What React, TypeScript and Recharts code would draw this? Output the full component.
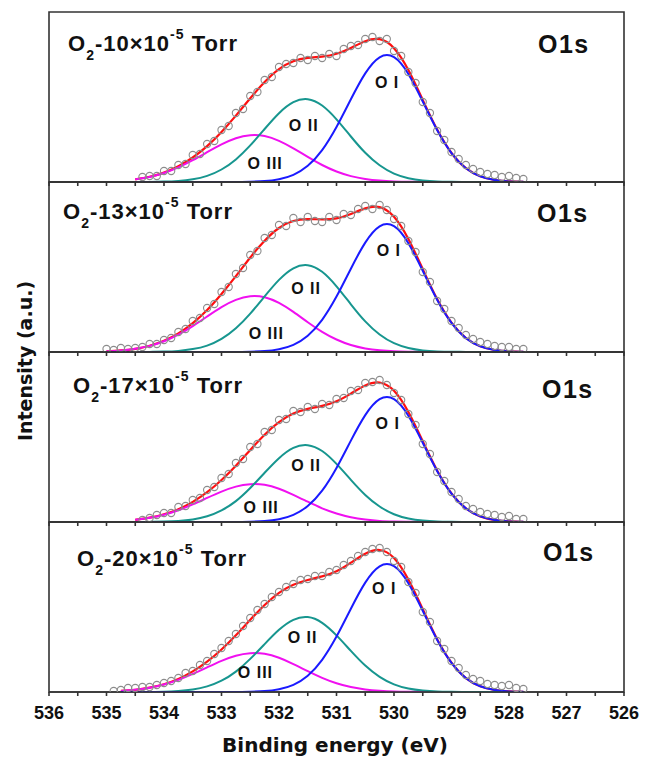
import { ComposedChart, Line, Scatter, XAxis, YAxis, ReferenceDot, ReferenceArea } from "recharts";

// binding energy grid of the fitted curves (eV)
const CURVE_EV = [
  535, 534.75, 534.5, 534.25, 534, 533.75, 533.5, 533.25, 533, 532.75, 532.5, 532.25, 532, 531.75, 531.5,
  531.25, 531, 530.75, 530.5, 530.25, 530, 529.75, 529.5, 529.25, 529, 528.75, 528.5, 528.25, 528, 527.75,
];

// binding energy grid of the measured points (eV)
const SCAN_EV = [
  535, 534.875, 534.75, 534.625, 534.5, 534.375, 534.25, 534.125, 534, 533.875, 533.75, 533.625, 533.5,
  533.375, 533.25, 533.125, 533, 532.875, 532.75, 532.625, 532.5, 532.375, 532.25, 532.125, 532, 531.875,
  531.75, 531.625, 531.5, 531.375, 531.25, 531.125, 531, 530.875, 530.75, 530.625, 530.5, 530.375, 530.25,
  530.125, 530, 529.875, 529.75, 529.625, 529.5, 529.375, 529.25, 529.125, 529, 528.875, 528.75, 528.625,
  528.5, 528.375, 528.25, 528.125, 528, 527.875, 527.75,
];

const TICK_EV = [
  536, 535.5, 535, 534.5, 534, 533.5, 533, 532.5, 532, 531.5, 531, 530.5, 530, 529.5, 529, 528.5, 528,
  527.5, 527, 526.5, 526,
];

const PRESSURES = ["10", "13", "17", "20"];

// O2 - 10e-5 Torr
const P1_SCAN = [
  null, null, null, null, null, 5, 6, 6, 11, 11, 17, 18, 27, 28, 38, 41, 52, 56, 69, 73, 86, 90, 102, 105,
  115, 118, 119, 124, 122, 126, 124, 128, 126, 133, 136, 137, 143, 145, 141, 143, 131, 126, 110, 99, 80, 69,
  51, 42, 30, 23, 17, 13, 10, 8, 7, 5, 6, 4, 3,
];
const P1_FIT = [
  null, null, 2.7, 5.2, 9.4, 15.7, 24.5, 35.9, 50.1, 66.4, 83.7, 99.9, 112.8, 120.7, 124.1, 125.4, 128.2,
  134.1, 140.8, 142.8, 133.8, 112.0, 82.1, 52.4, 29.0, 13.8, 5.7, 2.0, 0.6, 0.2,
];
const P1_OI = [
  null, null, 0, 0, 0, 0, 0, 0, 0, 0, 0.3, 0.9, 2.8, 7.2, 16.2, 31.9, 55.0, 82.7, 108.6, 124.7, 124.8, 108.0,
  80.5, 51.9, 28.8, 13.8, 5.7, 2.0, 0.6, 0.2,
];
const P1_OII = [
  null, null, 0, 0.1, 0.4, 1.1, 2.7, 6.1, 12.5, 22.6, 36.6, 53.0, 68.8, 79.8, 82.8, 76.5, 62.7, 45.5, 29.2,
  16.7, 8.4, 3.8, 1.5, 0.5, 0.2, 0, 0, 0, 0, 0,
];
const P1_OIII = [
  null, null, 2.7, 5.1, 9.0, 14.6, 21.8, 29.8, 37.6, 43.8, 46.8, 46.0, 41.2, 33.7, 25.1, 17.0, 10.5, 5.9, 3.0,
  1.4, 0.6, 0.2, 0.1, 0, 0, 0, 0, 0, 0, 0,
];

// O2 - 13e-5 Torr
const P2_SCAN = [
  3, 2, 4, 3, 4, 5, 8, 8, 12, 14, 20, 23, 31, 34, 44, 48, 60, 65, 78, 84, 97, 101, 114, 117, 127, 126, 134,
  130, 135, 131, 130, 135, 132, 138, 137, 143, 146, 143, 147, 142, 133, 126, 111, 100, 80, 70, 51, 43, 31,
  24, 17, 13, 10, 8, 6, 5, 5, 3, 3,
];
const P2_FIT = [
  0.7, 1.6, 3.2, 6.2, 11.2, 18.5, 28.8, 41.9, 58.0, 75.8, 94.5, 111.3, 124.0, 131.0, 132.9, 132.6, 133.6,
  138.0, 143.6, 144.9, 135.3, 113.1, 82.9, 52.9, 29.3, 14.0, 5.7, 2.0, 0.6, 0.2,
];
const P2_OI = [
  0, 0, 0, 0, 0, 0, 0, 0, 0, 0, 0.3, 0.9, 2.8, 7.2, 16.3, 32.2, 55.4, 83.3, 109.4, 125.7, 125.8, 108.8, 81.2,
  52.3, 29.1, 13.9, 5.7, 2.0, 0.6, 0.2,
];
const P2_OII = [
  0, 0, 0, 0.1, 0.4, 1.1, 2.9, 6.4, 13.1, 23.7, 38.4, 55.6, 72.1, 83.7, 86.8, 80.2, 65.7, 47.7, 30.6, 17.5,
  8.8, 4.0, 1.6, 0.6, 0.2, 0.1, 0, 0, 0, 0,
];
const P2_OIII = [
  0.7, 1.6, 3.2, 6.1, 10.8, 17.4, 25.9, 35.5, 44.9, 52.1, 55.8, 54.8, 49.1, 40.1, 29.8, 20.2, 12.5, 7.0, 3.6,
  1.7, 0.7, 0.3, 0.1, 0, 0, 0, 0, 0, 0, 0,
];

// O2 - 17e-5 Torr
const P3_SCAN = [
  null, null, null, null, null, 2, 4, 7, 9, 9, 15, 16, 22, 24, 32, 35, 44, 48, 59, 63, 75, 78, 90, 92, 102,
  103, 111, 110, 115, 113, 118, 117, 123, 124, 131, 132, 139, 140, 142, 137, 129, 122, 108, 97, 78, 68, 50,
  41, 30, 23, 16, 13, 10, 8, 7, 5, 6, 3, 3,
];
const P3_FIT = [
  null, null, 2.2, 4.3, 7.7, 12.8, 20.1, 29.8, 42.0, 56.3, 72.1, 87.3, 99.8, 108.4, 113.1, 116.1, 120.7,
  128.4, 136.5, 139.4, 131.2, 110.0, 80.8, 51.6, 28.6, 13.6, 5.6, 2.0, 0.6, 0.2,
];
const P3_OI = [
  null, null, 0, 0, 0, 0, 0, 0, 0, 0, 0.3, 0.9, 2.7, 7.1, 16.0, 31.4, 54.1, 81.4, 106.9, 122.8, 122.9, 106.3,
  79.3, 51.1, 28.4, 13.6, 5.6, 2.0, 0.6, 0.2,
];
const P3_OII = [
  null, null, 0, 0.1, 0.4, 1.0, 2.5, 5.7, 11.6, 20.9, 34.0, 49.2, 63.8, 74.1, 76.8, 71.0, 58.1, 42.2, 27.1,
  15.5, 7.8, 3.5, 1.4, 0.5, 0.2, 0, 0, 0, 0, 0,
];
const P3_OIII = [
  null, null, 2.2, 4.2, 7.3, 11.8, 17.6, 24.1, 30.4, 35.4, 37.8, 37.2, 33.3, 27.2, 20.3, 13.7, 8.5, 4.8, 2.5,
  1.1, 0.5, 0.2, 0.1, 0, 0, 0, 0, 0, 0, 0,
];

// O2 - 20e-5 Torr
const P4_SCAN = [
  null, 1, 2, 4, 4, 5, 5, 7, 9, 11, 14, 19, 21, 27, 31, 38, 44, 51, 58, 66, 74, 82, 88, 95, 100, 105, 108,
  112, 113, 116, 116, 120, 122, 127, 131, 136, 140, 143, 144, 140, 131, 125, 110, 99, 80, 70, 51, 43, 31, 24,
  17, 13, 11, 8, 7, 6, 7, 4, 3,
];
const P4_FIT = [
  null, 1.1, 2.2, 4.4, 7.8, 13.1, 20.6, 30.3, 42.5, 56.7, 72.2, 87.0, 99.2, 107.3, 112.0, 115.6, 120.7, 129.3,
  138.3, 142.0, 133.9, 112.4, 82.8, 52.8, 29.3, 13.9, 5.7, 2.0, 0.6, 0.2,
];
const P4_OI = [
  null, 0, 0, 0, 0, 0, 0, 0, 0, 0, 0.3, 0.9, 2.8, 7.2, 16.3, 32.2, 55.4, 83.3, 109.4, 125.7, 125.8, 108.8,
  81.2, 52.3, 29.1, 13.9, 5.7, 2.0, 0.6, 0.2,
];
const P4_OII = [
  null, 0, 0, 0.1, 0.3, 1.0, 2.5, 5.6, 11.3, 20.4, 33.1, 47.9, 62.2, 72.2, 74.9, 69.2, 56.6, 41.1, 26.4, 15.1,
  7.6, 3.4, 1.4, 0.5, 0.2, 0, 0, 0, 0, 0,
];
const P4_OIII = [
  null, 1.1, 2.2, 4.3, 7.5, 12.1, 18.1, 24.7, 31.2, 36.3, 38.8, 38.2, 34.2, 27.9, 20.8, 14.1, 8.7, 4.9, 2.5,
  1.2, 0.5, 0.2, 0.1, 0, 0, 0, 0, 0, 0, 0,
];

// where the peak names sit, in data units (eV, intensity)
const P1_TAGS = [{ t: "O I", ev: 530.12, y: 100 }, { t: "O II", ev: 531.57, y: 57 }, { t: "O III", ev: 532.24, y: 19 }];
const P2_TAGS = [{ t: "O I", ev: 530.09, y: 102 }, { t: "O II", ev: 531.53, y: 64 }, { t: "O III", ev: 532.22, y: 19 }];
const P3_TAGS = [{ t: "O I", ev: 530.11, y: 99 }, { t: "O II", ev: 531.53, y: 57 }, { t: "O III", ev: 532.31, y: 15 }];
const P4_TAGS = [{ t: "O I", ev: 530.17, y: 104 }, { t: "O II", ev: 531.59, y: 55 }, { t: "O III", ev: 532.41, y: 20 }];

const PANELS = [
  { top: 12, scan: P1_SCAN, fit: P1_FIT, oI: P1_OI, oII: P1_OII, oIII: P1_OIII, tags: P1_TAGS, tx: 68, ty: 51, sx: 538, sy: 53 },
  { top: 182, scan: P2_SCAN, fit: P2_FIT, oI: P2_OI, oII: P2_OII, oIII: P2_OIII, tags: P2_TAGS, tx: 63, ty: 219, sx: 537, sy: 222 },
  { top: 352, scan: P3_SCAN, fit: P3_FIT, oI: P3_OI, oII: P3_OII, oIII: P3_OIII, tags: P3_TAGS, tx: 73, ty: 393, sx: 542, sy: 398 },
  { top: 522, scan: P4_SCAN, fit: P4_FIT, oI: P4_OI, oII: P4_OII, oIII: P4_OIII, tags: P4_TAGS, tx: 77, ty: 566, sx: 543, sy: 561 },
];

const PLOT_H = 170;
const PAD = 4;
const FRAME = "#333";
const SANS = "'Liberation Sans', Arial, sans-serif";
const WIDE = "'DejaVu Sans', sans-serif";

function Ring(props: any) {
  const { cx, cy } = props;
  return <circle cx={cx} cy={cy} r={3.6} fill="none" stroke="#8c8c8c" strokeWidth={1.1} />;
}

function Panel({ p, last }: { p: (typeof PANELS)[number]; last: boolean }) {
  const curve = CURVE_EV.map((ev, i) => ({ ev, fit: p.fit[i], oI: p.oI[i], oII: p.oII[i], oIII: p.oIII[i] })).filter(
    (r) => r.fit != null
  );
  const scan = SCAN_EV.map((ev, i) => ({ ev, counts: p.scan[i] })).filter((r) => r.counts != null);
  const axisH = last ? 40 : 6;

  return (
    <div style={{ position: "absolute", left: 0, top: p.top - PAD }}>
      <ComposedChart width={646} height={PAD + PLOT_H + axisH} margin={{ top: PAD, right: 22, bottom: 0, left: 49 }}>
        <XAxis
          xAxisId="b"
          type="number"
          dataKey="ev"
          domain={[526, 536]}
          reversed
          allowDataOverflow
          ticks={TICK_EV}
          interval={0}
          height={axisH}
          tickSize={4}
          tickMargin={10}
          tickFormatter={(v) => (last && Number.isInteger(v) ? String(v) : "")}
          stroke={FRAME}
          strokeWidth={1.6}
          tick={{ fill: "#111", fontSize: 18, fontWeight: "bold", fontFamily: SANS }}
        />
        <YAxis yAxisId="l" type="number" domain={[0, PLOT_H]} allowDataOverflow hide />
        <ReferenceArea
          xAxisId="b"
          yAxisId="l"
          x1={536}
          x2={526}
          y1={0}
          y2={PLOT_H}
          fill="none"
          fillOpacity={0}
          stroke={FRAME}
          strokeWidth={1.6}
          ifOverflow="visible"
        />
        <Scatter xAxisId="b" yAxisId="l" data={scan} dataKey="counts" shape={Ring} isAnimationActive={false} />
        <Line xAxisId="b" yAxisId="l" data={curve} dataKey="fit" type="natural" stroke="#ff1010" strokeWidth={2.2} dot={false} activeDot={false} isAnimationActive={false} />
        <Line xAxisId="b" yAxisId="l" data={curve} dataKey="oIII" type="natural" stroke="#f010f0" strokeWidth={2} dot={false} activeDot={false} isAnimationActive={false} />
        <Line xAxisId="b" yAxisId="l" data={curve} dataKey="oII" type="natural" stroke="#17968f" strokeWidth={2} dot={false} activeDot={false} isAnimationActive={false} />
        <Line xAxisId="b" yAxisId="l" data={curve} dataKey="oI" type="natural" stroke="#1a1aff" strokeWidth={2} dot={false} activeDot={false} isAnimationActive={false} />
        {p.tags.map((tag) => (
          <ReferenceDot
            key={tag.t}
            xAxisId="b"
            yAxisId="l"
            x={tag.ev}
            y={tag.y}
            r={0}
            fill="none"
            stroke="none"
            label={{ value: tag.t, position: "center", fill: "#111", fontSize: 16, fontWeight: "bold", fontFamily: SANS, letterSpacing: 1 }}
          />
        ))}
      </ComposedChart>
    </div>
  );
}

export default function App() {
  return (
    <div style={{ position: "absolute", left: 0, top: 0, width: 646, height: 758, background: "#fff" }}>
      {PANELS.map((p, i) => (
        <Panel key={i} p={p} last={i === PANELS.length - 1} />
      ))}
      <svg width={646} height={758} style={{ position: "absolute", left: 0, top: 0, pointerEvents: "none" }}>
        {PANELS.map((p, i) => (
          <g key={i} fill="#111" fontWeight="bold" fontFamily={SANS}>
            <text x={p.tx} y={p.ty} fontSize={22} letterSpacing={1}>
              O
              <tspan dy={9} fontSize={14}>2</tspan>
              <tspan dy={-9}>-{PRESSURES[i]}×10</tspan>
              <tspan dy={-12} fontSize={14}>-5</tspan>
              <tspan dy={12}> Torr</tspan>
            </text>
            <text x={p.sx} y={p.sy} fontSize={25} letterSpacing={1.5}>
              O1s
            </text>
          </g>
        ))}
        <text x={335} y={752} textAnchor="middle" fill="#111" fontWeight="bold" fontSize={20} fontFamily={WIDE}>
          Binding energy (eV)
        </text>
        <text
          transform="translate(32 361) rotate(-90)"
          textAnchor="middle"
          fill="#111"
          fontWeight="bold"
          fontSize={19}
          fontFamily={WIDE}
        >
          Intensity (a.u.)
        </text>
      </svg>
    </div>
  );
}
